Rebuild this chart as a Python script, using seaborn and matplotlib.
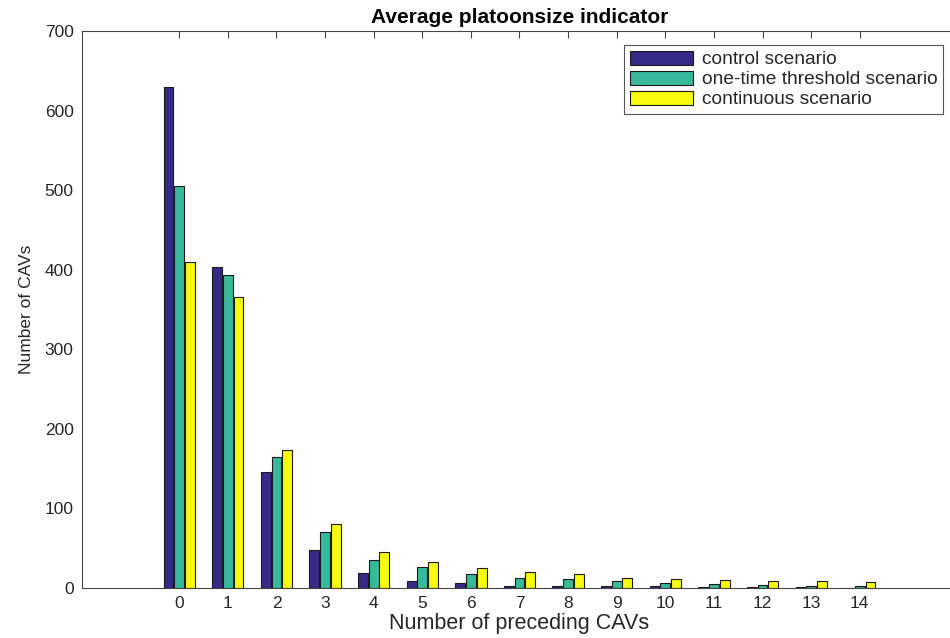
import matplotlib
matplotlib.use("Agg")
import matplotlib.pyplot as plt
import seaborn as sns
import pandas as pd

# Number of preceding CAVs (platoon position)
positions = list(range(15))

# Counts of CAVs per scenario
control = [630, 403, 146, 48, 19, 9, 6, 3, 2, 2, 2, 1.5, 1, 1, 0]
one_time = [505, 393, 165, 71, 35, 26, 18, 12, 11, 9, 6, 4.5, 4, 3, 3]
continuous = [410, 366, 173, 81, 45, 33, 25, 20, 17, 13, 11, 10, 9, 9, 7]

scenarios = ["control scenario", "one-time threshold scenario", "continuous scenario"]
colors = ["#352A87", "#38B99B", "#F9FB0E"]

df = pd.DataFrame({
    "pos": positions * 3,
    "count": control + one_time + continuous,
    "scenario": [scenarios[0]] * 15 + [scenarios[1]] * 15 + [scenarios[2]] * 15,
})

sns.set_theme(style="white")
plt.rcParams["font.family"] = ["Liberation Sans", "DejaVu Sans"]

W, H = 950, 638
fig = plt.figure(figsize=(W / 100, H / 100), dpi=100)
left, right, top, bottom = 82, 957, 31, 588
ax = fig.add_axes([left / W, 1 - bottom / H, (right - left) / W, (bottom - top) / H])

sns.barplot(data=df, x="pos", y="count", hue="scenario", hue_order=scenarios,
            order=positions, palette=colors, width=0.66, gap=0.08,
            edgecolor="#1a1a1a", linewidth=0.8, saturation=1, ax=ax,
            errorbar=None)

ax.set_xlim(-2, 16)
ax.set_ylim(0, 700)
ax.set_yticks(range(0, 701, 100))
ax.set_xticks(positions)
ax.set_xticklabels([str(p) for p in positions])

txt = "#262626"
ax.set_xlabel("Number of preceding CAVs", fontsize=15.5, color=txt, labelpad=1)
ax.set_ylabel("Number of CAVs", fontsize=12.5, color=txt, labelpad=8)
ax.set_title("Average platoonsize indicator", fontsize=15, fontweight="bold",
             color="black", pad=6)

ax.tick_params(axis="both", direction="in", length=5, width=0.8, colors="#444444",
               labelcolor=txt, labelsize=12.5, top=True, right=True)
ax.tick_params(axis="x", pad=6)
ax.tick_params(axis="y", pad=6)
for s in ax.spines.values():
    s.set_color("#444444")
    s.set_linewidth(0.8)
    s.set_visible(True)

handles, labels = ax.get_legend_handles_labels()
leg = ax.legend(handles, labels, loc="upper right",
                bbox_to_anchor=(943 / W, 1 - 45 / H), bbox_transform=fig.transFigure,
                borderaxespad=0, fontsize=13.8, frameon=True, fancybox=False,
                framealpha=1, edgecolor="#555555", handlelength=3.3,
                handleheight=0.75, handletextpad=0.45, labelspacing=0.12,
                borderpad=0.3)
leg.get_frame().set_linewidth(0.8)
for t in leg.get_texts():
    t.set_color(txt)

fig.savefig("out.png", dpi=100)
